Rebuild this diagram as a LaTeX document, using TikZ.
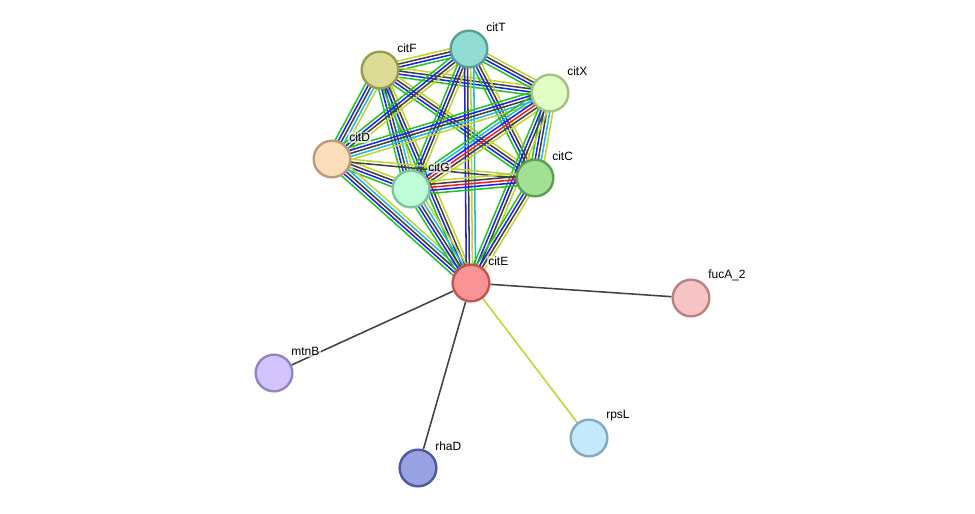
\documentclass[tikz,border=0pt]{standalone}
\usepackage{fontspec}
\setmainfont{Liberation Sans}
\usetikzlibrary{calc,backgrounds}

%% evidence colours
\definecolor{nbh}{HTML}{22C322}
\definecolor{fus}{HTML}{F02020}
\definecolor{coo}{HTML}{2020F0}
\definecolor{coex}{HTML}{404040}
\definecolor{dbs}{HTML}{20B8E0}
\definecolor{txt}{HTML}{C0D430}
%% protein colours (border, fill)
\definecolor{citTd}{HTML}{5A9F96}\definecolor{citTf}{HTML}{92DDD3}
\definecolor{citFd}{HTML}{9A9A52}\definecolor{citFf}{HTML}{DCDC96}
\definecolor{citXd}{HTML}{A2C282}\definecolor{citXf}{HTML}{E2FEC4}
\definecolor{citDd}{HTML}{BA9C7C}\definecolor{citDf}{HTML}{FEDDBA}
\definecolor{citGd}{HTML}{80C2A2}\definecolor{citGf}{HTML}{C0FEDA}
\definecolor{citCd}{HTML}{5AA052}\definecolor{citCf}{HTML}{A2E096}
\definecolor{citEd}{HTML}{C05454}\definecolor{citEf}{HTML}{FA9494}
\definecolor{fucAd}{HTML}{B88282}\definecolor{fucAf}{HTML}{F6C4C4}
\definecolor{mtnBd}{HTML}{9484C4}\definecolor{mtnBf}{HTML}{D4C4FE}
\definecolor{rhaDd}{HTML}{50589E}\definecolor{rhaDf}{HTML}{98A2E2}
\definecolor{rpsLd}{HTML}{82A8C2}\definecolor{rpsLf}{HTML}{C4E8FC}

%% one line per evidence channel, side by side
\newcommand{\bundle}[3]{%
  \foreach \c [count=\i] in {#3} {\xdef\nlines{\i}}
  \foreach \c [count=\i] in {#3} {
    \pgfmathsetmacro{\off}{(\i-(\nlines+1)/2)*2.3}
    \draw[\c,line width=1.15pt] ($(#1)!\off pt!90:(#2)$) -- ($(#2)!\off pt!-90:(#1)$);
  }%
}

\tikzset{
  prot/.style={circle,draw=#1d,fill=#1f,line width=1.8pt,minimum size=27.5pt,inner sep=0pt},
  tag/.style={font=\fontsize{9}{10}\selectfont,inner sep=1pt,label distance=2pt,
    fill=white,fill opacity=0.6,text opacity=1}
}

\begin{document}
\begin{tikzpicture}[x=0.75pt,y=-0.75pt]
	\useasboundingbox (0,0) rectangle (975,514);
	%% proteins
	\node (citT) [prot=citT,label={[tag]45:citT}] at (469,49) {};
	\node (citF) [prot=citF,label={[tag]45:citF}] at (380,70) {};
	\node (citX) [prot=citX,label={[tag]45:citX}] at (550,93) {};
	\node (citD) [prot=citD,label={[tag]45:citD}] at (332,159) {};
	\node (citG) [prot=citG,label={[tag]45:citG}] at (411,189) {};
	\node (citC) [prot=citC,label={[tag]45:citC}] at (535,178) {};
	\node (citE) [prot=citE,label={[tag]45:citE}] at (471,283) {};
	\node (fucA) [prot=fucA,label={[tag]45:fucA\_2}] at (691,298) {};
	\node (mtnB) [prot=mtnB,label={[tag]45:mtnB}] at (274,373) {};
	\node (rhaD) [prot=rhaD,label={[tag]45:rhaD}] at (418,468) {};
	\node (rpsL) [prot=rpsL,label={[tag]45:rpsL}] at (589,438) {};

	\begin{scope}[on background layer]
	%% cluster around citE
	\bundle{citF}{citT}{nbh,coo,coex,txt}
	\bundle{citF}{citX}{nbh,coo,coex,txt}
	\bundle{citF}{citD}{nbh,coo,coex,dbs,txt}
	\bundle{citF}{citG}{nbh,coo,coex,dbs,txt}
	\bundle{citF}{citC}{nbh,coo,coex,txt}
	\bundle{citF}{citE}{nbh,coo,coex,txt}
	\bundle{citT}{citX}{nbh,coo,coex,txt}
	\bundle{citT}{citD}{nbh,coo,coex,txt}
	\bundle{citT}{citG}{nbh,coo,coex,txt}
	\bundle{citT}{citC}{nbh,coo,coex,txt}
	\bundle{citT}{citE}{coo,coex,txt,dbs}
	\bundle{citX}{citD}{nbh,coo,coex,dbs,txt}
	\bundle{citX}{citG}{nbh,dbs,coo,fus,coex,txt}
	\bundle{citX}{citC}{nbh,coo,coex,dbs,txt}
	\bundle{citX}{citE}{nbh,coo,coex,txt}
	\bundle{citD}{citG}{nbh,coo,coex,txt}
	\bundle{citD}{citC}{coex,txt}
	\bundle{citD}{citE}{nbh,coo,coex,dbs,txt}
	\bundle{citG}{citC}{nbh,coo,fus,coex,txt}
	\bundle{citG}{citE}{nbh,coo,coex,dbs,txt}
	\bundle{citC}{citE}{nbh,coo,coex,txt}
	%% single links
	\draw[coex,line width=1.15pt] (citE) -- (fucA);
	\draw[coex,line width=1.15pt] (citE) -- (mtnB);
	\draw[coex,line width=1.15pt] (citE) -- (rhaD);
	\draw[txt,line width=1.15pt] (citE) -- (rpsL);
	\end{scope}
\end{tikzpicture}
\end{document}
